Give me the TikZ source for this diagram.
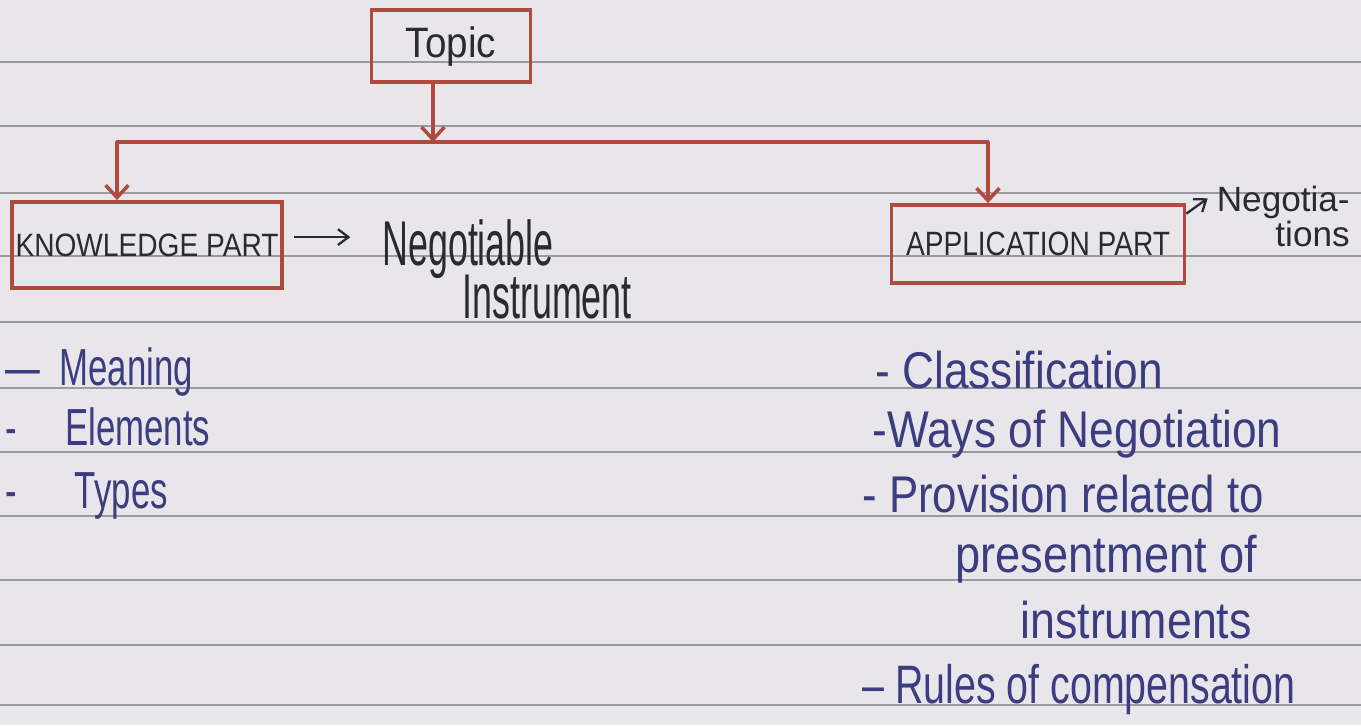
\documentclass[tikz,border=0pt]{standalone}
\usepackage{fontspec}
\setmainfont{Liberation Sans}
\usepackage{graphicx}
\usetikzlibrary{arrows.meta,calc}

\definecolor{paper}{HTML}{E8E6EA}
\definecolor{ruling}{HTML}{9A999F}
\definecolor{redink}{HTML}{B04A3E}
\definecolor{blueink}{HTML}{3C3D80}
\definecolor{blackink}{HTML}{2A2A32}

% stretched hand lettering
\newcommand{\hand}[3]{\scalebox{#1}[#2]{#3}}

\begin{document}
\begin{tikzpicture}[x=0.02cm, y=-0.02cm,
    box/.style={draw=redink, line width=2.2pt, inner sep=0pt, text=blackink},
    link/.style={redink, line width=2pt, -{Straight Barb[length=7pt,width=13pt]}},
    pen/.style={blackink, line width=1.3pt, -{Straight Barb[length=6pt,width=9pt]}},
    head/.style={text=blackink, inner sep=0pt},
    item/.style={text=blueink, inner sep=0pt, anchor=base west, font=\fontsize{28}{30}\selectfont}]
\fill [paper] (0,0) rectangle (1361,725);
\useasboundingbox (0,0) rectangle (1361,725);
% ruled lines of the page
\foreach \y in {62,126,193,256,322,388,452,516,580,645,705} {
    \draw [ruling, line width=0.8pt] (0,\y) -- (1361,\y);
}
% boxes
\node [box, minimum width=3.18cm, minimum height=1.44cm, font=\fontsize{22}{24}\selectfont] (topic) at (451,46) {\hand{1}{1.1}{Topic}};
\node [box, minimum width=5.4cm, minimum height=1.72cm, font=\fontsize{16}{18}\selectfont] (knowledge) at (147,245) {\hand{1}{1.15}{KNOWLEDGE PART}};
\node [box, minimum width=5.86cm, minimum height=1.56cm, font=\fontsize{16}{18}\selectfont] (application) at (1038,244) {\hand{1}{1.2}{APPLICATION PART}};
% side labels
\node [head, anchor=base west, font=\fontsize{24}{26}\selectfont] (negotiable) at (382,265) {\hand{0.85}{1.5}{Negotiable}};
\node [head, anchor=base west, font=\fontsize{24}{26}\selectfont] (instrument) at (462,318) {\hand{0.85}{1.5}{Instrument}};
\node [head, anchor=north east, align=right, font=\fontsize{20}{14}\selectfont] (negotiations) at (1350,186) {Negotia-\\tions};
% split under the topic
\coordinate (split) at (433,142);
\coordinate (kdrop) at (117,142);
\coordinate (adrop) at (988,142);
\draw [link] (topic.south -| split) -- (split);
\draw [redink, line width=2pt, line cap=round] (kdrop) -- (adrop);
\draw [link] (kdrop) -- (kdrop |- knowledge.north);
\draw [link] (adrop) -- (adrop |- application.north);
\draw [pen] ($(knowledge.east)+(6pt,4.5pt)$) -- ($(knowledge.east -| negotiable.west)+(-18pt,4.5pt)$);
\draw [pen] ([yshift=-6pt]application.north east) -- ([xshift=-5pt,yshift=-7pt]negotiations.north west);
% knowledge part list
\node [item, font=\fontsize{22}{24}\selectfont] (meaning) at (5,385) {\hand{0.9}{1.35}{—\ \ Meaning}};
\node [item, font=\fontsize{22}{24}\selectfont] (elements) at (5,445) {\hand{0.9}{1.35}{-\ \ \ \ \ Elements}};
\node [item, font=\fontsize{22}{24}\selectfont] (types) at (5,508) {\hand{0.9}{1.35}{-\ \ \ \ \ \ Types}};
% application part list
\node [item] (classification) at (875,388) {\hand{0.9}{1.05}{- Classification}};
\node [item] (ways) at (872,447) {\hand{0.9}{1.05}{-Ways of Negotiation}};
\node [item] (provision) at (862,512) {\hand{0.89}{1.05}{- Provision related to}};
\node [item] (presentment) at (955,572) {\hand{0.92}{1.05}{presentment of}};
\node [item] (instruments) at (1020,638) {\hand{0.91}{1.05}{instruments}};
\node [item] (rules) at (862,703) {\hand{0.8}{1.1}{–\ Rules of compensation}};
\end{tikzpicture}
\end{document}
